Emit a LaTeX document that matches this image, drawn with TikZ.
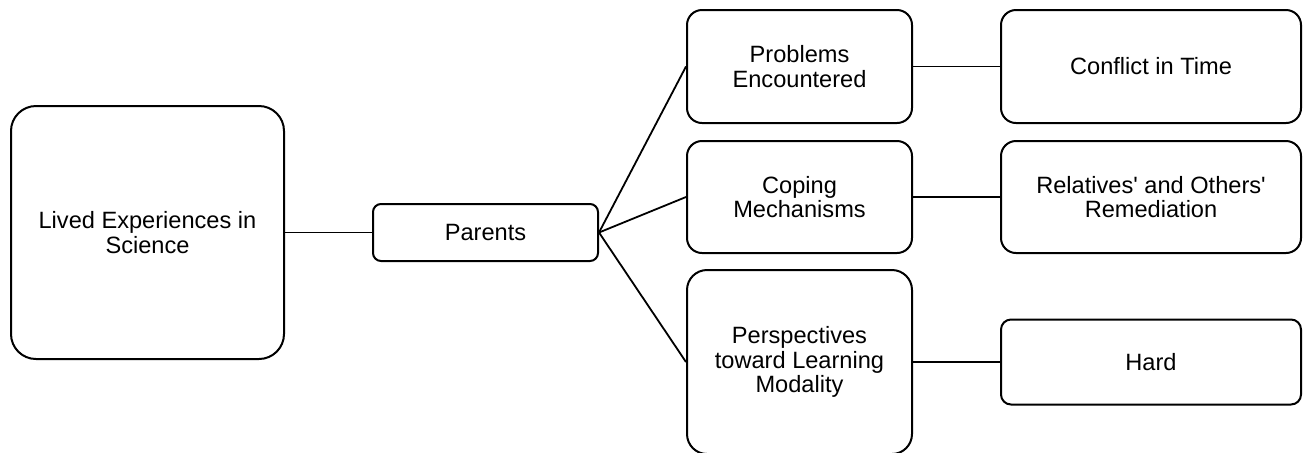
\documentclass[tikz,border=0pt]{standalone}
\usepackage{fontspec}
\setmainfont{Liberation Sans}

\begin{document}
\begin{tikzpicture}[x=0.5pt,y=-0.5pt,
  box/.style={draw,line width=1pt,align=center,inner sep=0pt,font=\fontsize{11.8}{12.2}\selectfont},
  mid/.style={box,minimum width=112.5pt},
  leaf/.style={box,minimum width=150pt}]
%\draw[help lines] (0,0) grid[step=50] (1305,452);
\useasboundingbox (0,0) rectangle (1305,452);

\node[box,rounded corners=12.5pt,minimum width=136.5pt,minimum height=126.5pt] (exp) at (147.5,232.5) {Lived Experiences in\\Science};
\node[box,rounded corners=4pt,minimum width=112.5pt,minimum height=28.5pt] (par) at (485.5,232.5) {Parents};

\node[mid,rounded corners=7.5pt,minimum height=56.5pt] (prob) at (799.5,66.5) {Problems\\Encountered};
\node[mid,rounded corners=7.5pt,minimum height=56pt] (cope) at (799.5,197) {Coping\\Mechanisms};
\node[mid,rounded corners=10pt,minimum height=92pt] (persp) at (799.5,362) {Perspectives\\toward Learning\\Modality};

\node[leaf,rounded corners=7.5pt,minimum height=56.5pt] (conf) at (1151,66.5) {Conflict in Time};
\node[leaf,rounded corners=7.5pt,minimum height=56pt] (rel) at (1151,197) {Relatives\textquotesingle{} and Others\textquotesingle\\Remediation};
\node[leaf,rounded corners=5pt,minimum height=42.5pt] (hard) at (1151,362) {Hard};

\foreach \s/\e in {exp/par, par/prob, par/cope, par/persp, prob/conf, cope/rel, persp/hard}
  \draw[line width=0.9pt] (\s.east) -- (\e.west);
\end{tikzpicture}
\end{document}
